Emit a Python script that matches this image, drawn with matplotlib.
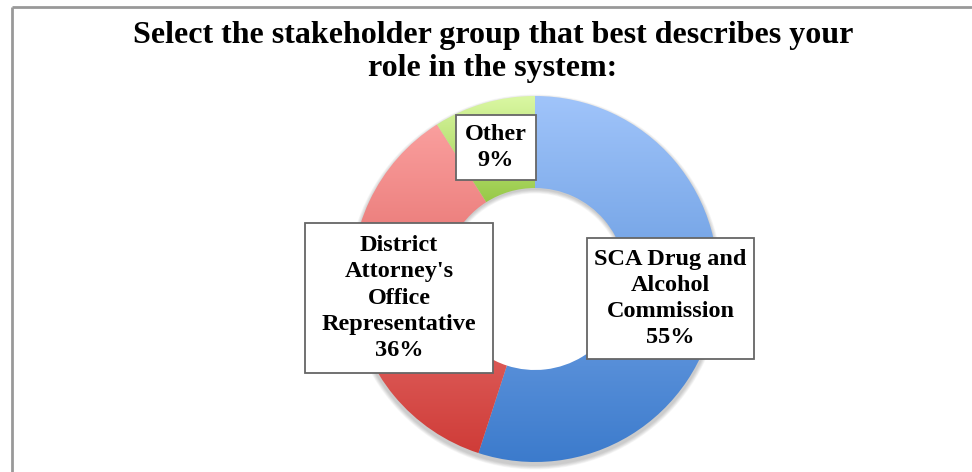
import numpy as np
import matplotlib
matplotlib.use('Agg')
from matplotlib import pyplot as plt
from matplotlib.patches import Wedge, Rectangle
from matplotlib.colors import LinearSegmentedColormap

# datos de la encuesta
grupos = ['SCA Drug and\nAlcohol\nCommission', "District\nAttorney's\nOffice\nRepresentative", 'Other']
porcentajes = [55, 36, 9]
titulo = 'Select the stakeholder group that best describes your\nrole in the system:'

# colores degradados (arriba claro, abajo oscuro)
colores = [('#a0c4fa', '#3c7bcc'), ('#fa9f9e', '#cf3c38'), ('#dbf8a4', '#97c947')]

W, H = 972, 472
fig = plt.figure(figsize=(W / 100, H / 100), dpi=100)
ax = fig.add_axes([0, 0, 1, 1])
ax.set_xlim(0, W)
ax.set_ylim(0, H)
ax.set_aspect('equal')
ax.axis('off')

# marco gris (solo borde izquierdo y superior visibles)
ax.plot([12, 12], [0, H - 7], color='#999999', lw=2, solid_capstyle='butt')
ax.plot([12, W], [H - 7, H - 7], color='#999999', lw=2, solid_capstyle='butt')

cx, cy = 535, H - 279
r_ext, ancho = 183, 92

# sombra suave del anillo
for i in range(6):
    sombra = Wedge((cx, cy - 3), r_ext + 1 + i * 0.7, 0, 360, width=ancho + 2 * i * 0.7,
                   facecolor='black', edgecolor='none', alpha=0.035, zorder=1)
    ax.add_patch(sombra)

wedges, _ = ax.pie(porcentajes, center=(cx, cy), radius=r_ext, startangle=90,
                   counterclock=False, wedgeprops=dict(width=ancho, edgecolor='none'),
                   frame=True)
ax.set_xlim(0, W)
ax.set_ylim(0, H)
ax.axis('off')

fig.canvas.draw()
for w, (c1, c2) in zip(wedges, colores):
    w.set_facecolor('none')
    bb = w.get_path().transformed(w.get_patch_transform()).get_extents()
    cmap = LinearSegmentedColormap.from_list('g', [c1, c2])
    grad = np.linspace(0, 1, 256).reshape(-1, 1)
    im = ax.imshow(grad, cmap=cmap, aspect='auto', origin='upper',
                   extent=[bb.x0, bb.x1, bb.y0, bb.y1], zorder=2, interpolation='bilinear')
    im.set_clip_path(w)

# etiquetas en cajas
fuente = dict(family='Liberation Serif', weight='bold', color='black')
cajas = [(587, 238, 754, 359), (305, 223, 493, 373), (456, 115, 536, 180)]
for (x0, y0, x1, y1), g, p in zip(cajas, grupos, porcentajes):
    ax.add_patch(Rectangle((x0, H - y1), x1 - x0, y1 - y0, facecolor='white',
                           edgecolor='#666666', lw=1.3, zorder=4))
    ax.text((x0 + x1) / 2, H - (y0 + y1) / 2, f'{g}\n{p}%', ha='center', va='center',
            fontsize=17.5, linespacing=1.32, zorder=5, **fuente)

ax.text(493, H - 52, titulo, ha='center', va='center', fontsize=23,
        linespacing=1.17, **fuente)

fig.savefig('out.png', dpi=100)
